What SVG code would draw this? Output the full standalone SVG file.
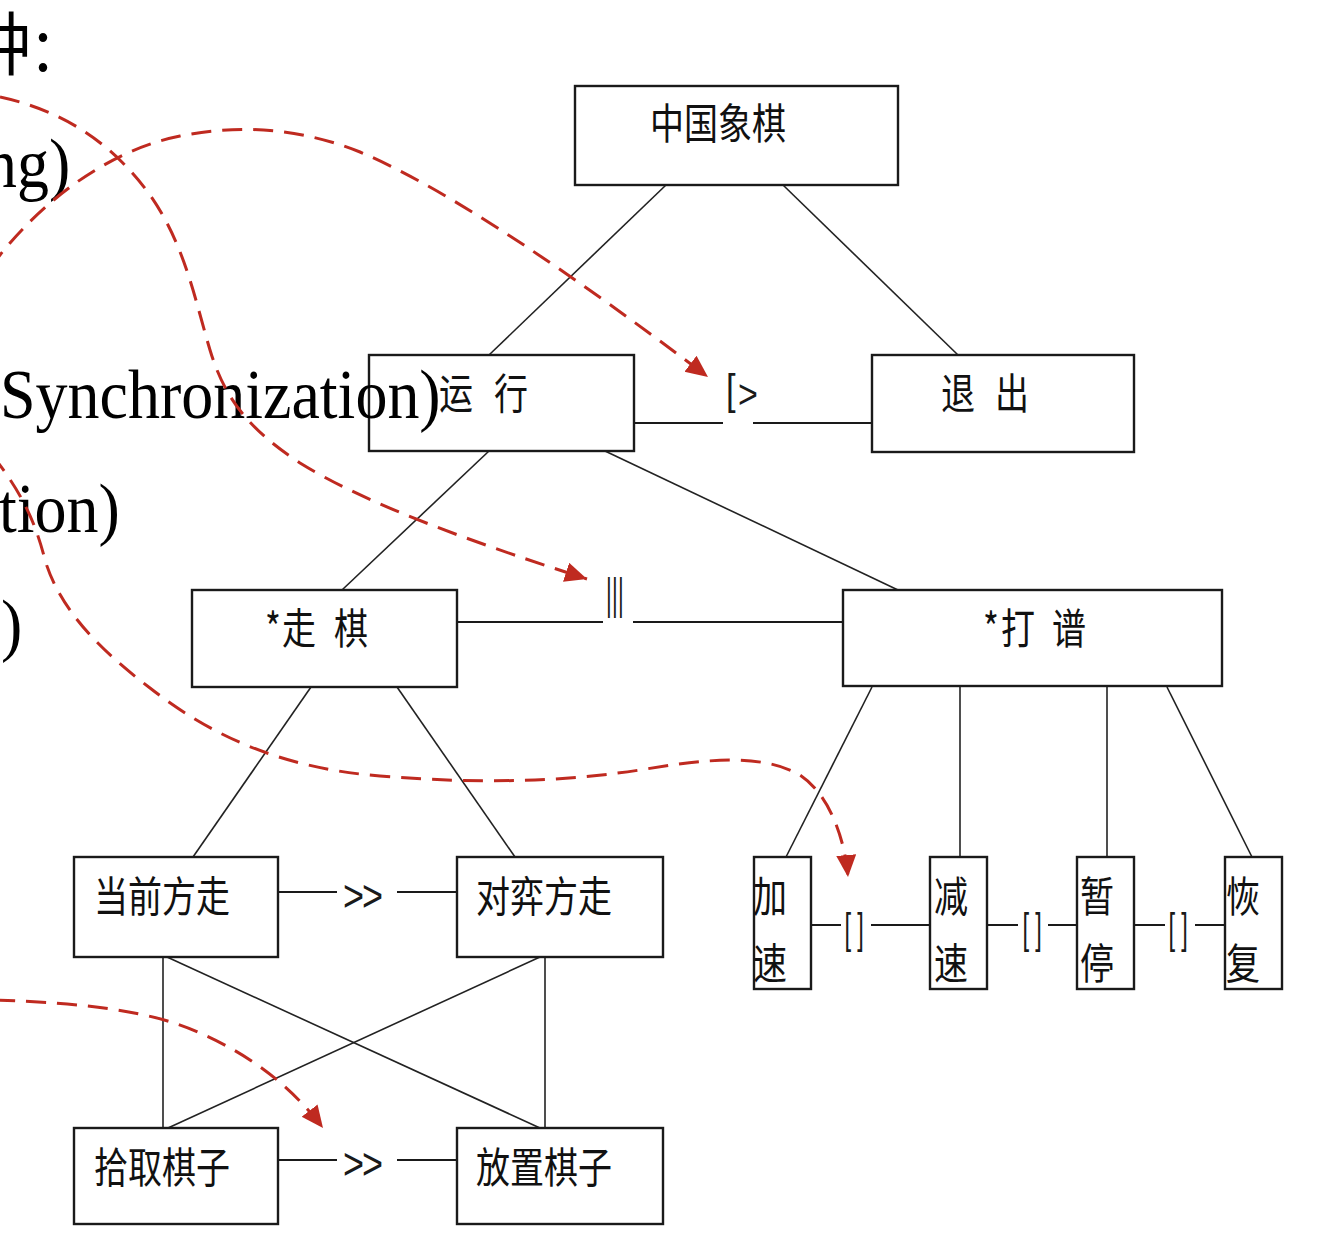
<svg xmlns="http://www.w3.org/2000/svg" width="1334" height="1256" viewBox="0 0 1334 1256">
<style>
.box{fill:#fff;stroke:#1a1a1a;stroke-width:2.4}
.ln{fill:none;stroke:#222;stroke-width:1.6}
.hl{fill:none;stroke:#1a1a1a;stroke-width:2.2}
.lbl{font-family:"Noto Sans CJK SC","Noto Sans",sans-serif;font-size:34px;fill:#111}
.sym{font-family:"Liberation Sans",Arial,sans-serif;fill:#1a1a1a}
.big{font-family:"Liberation Serif","Noto Sans CJK SC",serif;font-size:64px;fill:#000}
.red{fill:none;stroke:#BF2A20;stroke-width:3;stroke-dasharray:20 11}
</style>
<defs>
<marker id="ah" markerUnits="userSpaceOnUse" markerWidth="24" markerHeight="22" refX="22" refY="10" orient="auto">
<path d="M0,0 L22,10 L0,20 Z" fill="#BF2A20" stroke="none"/>
</marker>
</defs>
<g id="connectors">
<path class="ln" d="M666,185 L489,355"/>
<path class="ln" d="M783,185 L958,355"/>
<path class="ln" d="M489,451 L342,590"/>
<path class="ln" d="M605,451 L898,590"/>
<path class="ln" d="M311,687 L193,857"/>
<path class="ln" d="M397,687 L515,857"/>
<path class="ln" d="M872,687 L786,857"/>
<path class="ln" d="M960,687 L960,857"/>
<path class="ln" d="M1107,687 L1107,857"/>
<path class="ln" d="M1167,687 L1252,857"/>
<path class="ln" d="M163,957 L163,1128"/>
<path class="ln" d="M167,957 L540,1128"/>
<path class="ln" d="M540,957 L168,1128"/>
<path class="ln" d="M545,957 L545,1128"/>
<path class="hl" d="M634,423 L723,423 M753,423 L872,423"/>
<path class="hl" d="M457,622 L603,622 M633,622 L843,622"/>
<path class="hl" d="M278,892 L337,892 M397,892 L457,892"/>
<path class="hl" d="M278,1160 L337,1160 M397,1160 L457,1160"/>
<path class="hl" d="M811,925 L841,925 M871,925 L930,925"/>
<path class="hl" d="M987,925 L1018,925 M1048,925 L1077,925"/>
<path class="hl" d="M1134,925 L1165,925 M1195,925 L1225,925"/>
<text class="sym" font-size="43" transform="translate(726,404) scale(0.8,1)" x="0" y="0">[</text>
<text class="sym" font-size="40" transform="translate(738,408) scale(0.85,1)" x="0" y="0">&gt;</text>
<text class="sym" font-size="44" transform="translate(606,609) scale(0.5,1)" letter-spacing="0.6">|||</text>
<text class="sym" font-size="36" transform="translate(0,911) scale(1,1.25)" x="343 362" y="0">&gt;&gt;</text>
<text class="sym" font-size="36" transform="translate(0,1179) scale(1,1.25)" x="343 362" y="0">&gt;&gt;</text>
<text class="sym" font-size="43" transform="translate(844.5,943) scale(0.55,1)" x="0 23" y="0">[]</text>
<text class="sym" font-size="43" transform="translate(1022.5,943) scale(0.55,1)" x="0 23" y="0">[]</text>
<text class="sym" font-size="43" transform="translate(1168.5,943) scale(0.55,1)" x="0 23" y="0">[]</text>
</g>
<g id="n-zhongguoxiangqi"><rect class="box" x="575" y="86" width="323" height="99"/><text class="lbl" transform="translate(650,139) scale(1,1.25)">中国象棋</text></g>
<g id="n-yunxing"><rect class="box" x="369" y="355" width="265" height="96"/><text class="lbl" transform="translate(439,409) scale(1,1.25)" x="0 55" y="0">运行</text></g>
<g id="n-tuichu"><rect class="box" x="872" y="355" width="262" height="97"/><text class="lbl" transform="translate(941,409) scale(1,1.25)" x="0 54" y="0">退出</text></g>
<g id="n-zouqi"><rect class="box" x="192" y="590" width="265" height="97"/><text class="lbl" transform="translate(265,644) scale(1,1.25)" x="0 17 69" y="0">*走棋</text></g>
<g id="n-dapu"><rect class="box" x="843" y="590" width="379" height="96"/><text class="lbl" transform="translate(983,644) scale(1,1.25)" x="0 18 69" y="0">*打谱</text></g>
<g id="n-dangqian"><rect class="box" x="74" y="857" width="204" height="100"/><text class="lbl" transform="translate(94,912) scale(1,1.25)">当前方走</text></g>
<g id="n-duiyi"><rect class="box" x="457" y="857" width="206" height="100"/><text class="lbl" transform="translate(476,912) scale(1,1.25)">对弈方走</text></g>
<g id="n-shiqu"><rect class="box" x="74" y="1128" width="204" height="96"/><text class="lbl" transform="translate(94,1183) scale(1,1.25)">拾取棋子</text></g>
<g id="n-fangzhi"><rect class="box" x="457" y="1128" width="206" height="96"/><text class="lbl" transform="translate(476,1183) scale(1,1.25)">放置棋子</text></g>
<g id="n-jiasu"><rect class="box" x="754" y="857" width="57" height="132"/><text class="lbl" transform="translate(753,912) scale(1,1.25)">加</text><text class="lbl" transform="translate(753,979) scale(1,1.25)">速</text></g>
<g id="n-jiansu"><rect class="box" x="930" y="857" width="57" height="132"/><text class="lbl" transform="translate(934,912) scale(1,1.25)">减</text><text class="lbl" transform="translate(934,979) scale(1,1.25)">速</text></g>
<g id="n-zanting"><rect class="box" x="1077" y="857" width="57" height="132"/><text class="lbl" transform="translate(1080,912) scale(1,1.25)">暂</text><text class="lbl" transform="translate(1080,979) scale(1,1.25)">停</text></g>
<g id="n-huifu"><rect class="box" x="1225" y="857" width="57" height="132"/><text class="lbl" transform="translate(1226,912) scale(1,1.25)">恢</text><text class="lbl" transform="translate(1226,979) scale(1,1.25)">复</text></g>
<g id="left-text">
<text class="big" transform="translate(-33,70) scale(1,1.08)" font-family="Noto Sans CJK SC, sans-serif">种<tspan font-size="56" dx="-2" dy="2">：</tspan></text>
<text class="big" transform="translate(-15,187) scale(1,1.08)">ng)</text>
<text class="big" transform="translate(0,418) scale(1,1.08)">Synchronization)</text>
<text class="big" transform="translate(-1,532) scale(1,1.08)">tion)</text>
<text class="big" transform="translate(1,648) scale(1,1.08)">)</text>
</g>
<g id="annotations">
<path class="red" marker-end="url(#ah)" d="M0,97 C60,110 110,140 150,195 C185,245 195,300 210,350 C225,400 250,430 300,463 C360,500 450,535 587,579"/>
<path class="red" marker-end="url(#ah)" d="M-10,268 C40,200 110,150 180,136 C240,124 300,128 360,152 C450,190 580,280 708,377"/>
<path class="red" marker-end="url(#ah)" d="M-8,455 C20,490 35,520 45,560 C60,610 100,650 150,688 C210,735 280,768 380,776 C480,784 560,782 640,770 C700,760 760,752 800,775 C830,795 845,840 848,877"/>
<path class="red" marker-end="url(#ah)" d="M-5,1000 C80,1003 150,1010 200,1033 C250,1055 290,1085 323,1128"/>
</g>
</svg>
